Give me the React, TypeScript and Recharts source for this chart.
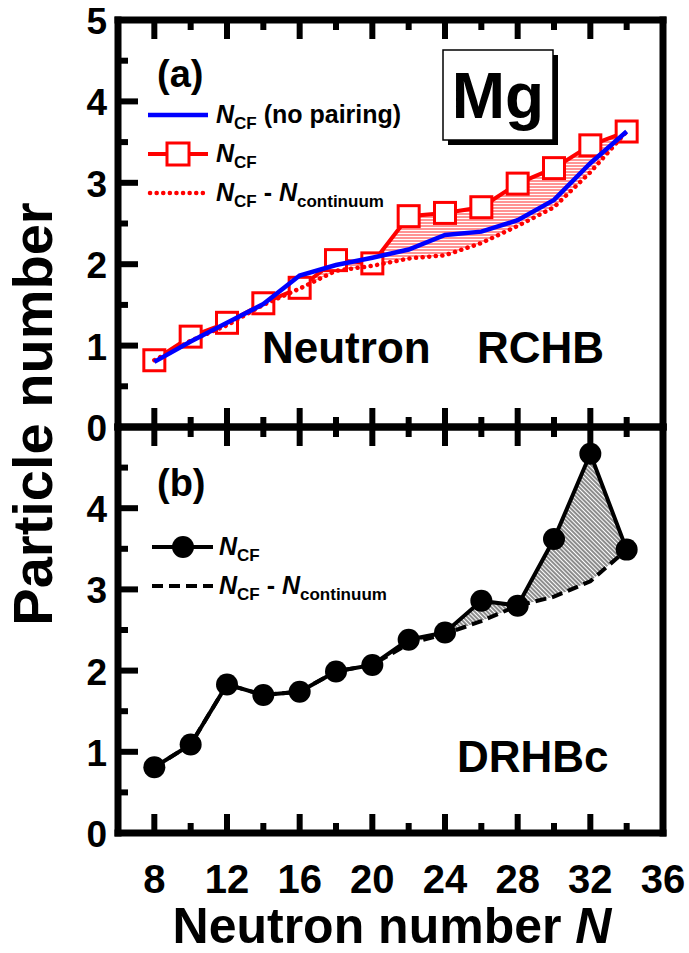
import React from 'react'
import { ComposedChart, Line, Area, XAxis, YAxis } from 'recharts'

// neutron numbers of the Mg isotopes
const neutronN = [8, 10, 12, 14, 16, 18, 20, 22, 24, 26, 28, 30, 32, 34]

// (a) RCHB
const rchbNcf = [0.82, 1.11, 1.28, 1.52, 1.71, 2.05, 2.01, 2.59, 2.63, 2.7, 2.99, 3.18, 3.46, 3.63]
const rchbNoPairing = [0.8, 1.05, 1.28, 1.51, 1.86, 1.99, 2.08, 2.18, 2.36, 2.4, 2.54, 2.79, 3.24, 3.63]
const rchbNcfMinusCont = [0.82, 1.06, 1.25, 1.5, 1.7, 1.92, 1.98, 2.07, 2.11, 2.26, 2.47, 2.7, 3.13, 3.63]

// (b) DRHBc
const drhbcNcf = [0.81, 1.09, 1.83, 1.7, 1.74, 1.99, 2.07, 2.38, 2.47, 2.86, 2.8, 3.62, 4.67, 3.49]
const drhbcNcfMinusCont = [0.81, 1.09, 1.83, 1.7, 1.74, 1.99, 2.07, 2.33, 2.45, 2.61, 2.8, 2.91, 3.1, 3.49]

const xTicks = [8, 10, 12, 14, 16, 18, 20, 22, 24, 26, 28, 30, 32, 34, 36]
const yTicksA = [0, 0.5, 1, 1.5, 2, 2.5, 3, 3.5, 4, 4.5, 5]
const yTicksB = [0, 0.5, 1, 1.5, 2, 2.5, 3, 3.5, 4, 4.5]

const rowsA = neutronN.map((n, i) => ({
  n,
  ncf: rchbNcf[i],
  noPair: rchbNoPairing[i],
  minus: rchbNcfMinusCont[i],
  band: [rchbNcfMinusCont[i], rchbNcf[i]],
}))
const rowsB = neutronN.map((n, i) => ({
  n,
  ncf: drhbcNcf[i],
  minus: drhbcNcfMinusCont[i],
  band: [drhbcNcfMinusCont[i], drhbcNcf[i]],
}))

const FONT = '"Liberation Sans", Arial, sans-serif'
const frame = { stroke: '#000', strokeWidth: 7, strokeLinecap: 'square' as const }

// ticks point into the plot; dir = +1 down/right, -1 up/left
function XTick(props: any) {
  const { x, y, payload, dir, showLabel } = props
  const v = payload.value
  const major = v % 4 === 0
  return (
    <g>
      <line x1={x} y1={y} x2={x} y2={y + dir * (major ? 19 : 10)} stroke="#000" strokeWidth={6} />
      {showLabel && major && (
        <text x={x} y={y + 60} textAnchor="middle" fontFamily={FONT} fontWeight="bold" fontSize={40} fill="#000">
          {v}
        </text>
      )}
    </g>
  )
}

function YTick(props: any) {
  const { x, y, payload, dir, showLabel } = props
  const v = payload.value
  const major = Number.isInteger(v)
  return (
    <g>
      <line x1={x} y1={y} x2={x + dir * (major ? 20 : 10)} y2={y} stroke="#000" strokeWidth={6} />
      {showLabel && major && (
        <text x={x - 11} y={y + 14} textAnchor="end" fontFamily={FONT} fontWeight="bold" fontSize={37} fill="#000">
          {v}
        </text>
      )}
    </g>
  )
}

function Square(p: any) {
  const { cx, cy, index } = p
  return <rect key={'sq' + index} x={cx - 10.5} y={cy - 10.5} width={21} height={21} fill="#fff" stroke="#f00" strokeWidth={3} />
}

function axesFor(yTicks: number[], bottomLabels: boolean, bottomH: number, topH: number, hidden = false) {
  const line = hidden ? false : frame
  const xt = (dir: number, lab: boolean) => (hidden ? false : (p: any) => <XTick {...p} dir={dir} showLabel={lab} />)
  const yt = (dir: number, lab: boolean) => (hidden ? false : (p: any) => <YTick {...p} dir={dir} showLabel={lab} />)
  return [
    <XAxis key="xb" xAxisId="b" dataKey="n" type="number" domain={[6, 36]} ticks={xTicks} interval={0}
      height={bottomH} tickSize={0} tickMargin={0} tickLine={false} axisLine={line} tick={xt(-1, bottomLabels)} />,
    <XAxis key="xt" xAxisId="t" orientation="top" dataKey="n" type="number" domain={[6, 36]} ticks={xTicks} interval={0}
      height={topH} tickSize={0} tickMargin={0} tickLine={false} axisLine={line} tick={xt(1, false)} />,
    <YAxis key="yl" yAxisId="l" type="number" domain={[0, 5]} ticks={yTicks} interval={0} width={118}
      tickSize={0} tickMargin={0} tickLine={false} axisLine={line} tick={yt(1, true)} />,
    <YAxis key="yr" yAxisId="r" orientation="right" type="number" domain={[0, 5]} ticks={yTicks} interval={0} width={26}
      tickSize={0} tickMargin={0} tickLine={false} axisLine={line} tick={yt(-1, false)} />,
  ]
}

function PanelA() {
  return (
    <ComposedChart width={689} height={460} data={rowsA} margin={{ top: 0, right: 0, bottom: 0, left: 0 }}>
      <defs>
        <pattern id="redHatch" width="6" height="3" patternUnits="userSpaceOnUse">
          <line x1="0" y1="1" x2="6" y2="1" stroke="#ff2a2a" strokeWidth="1" />
        </pattern>
      </defs>
      {axesFor(yTicksA, false, 33, 20)}
      <Area xAxisId="b" yAxisId="l" type="linear" dataKey="band" stroke="none" fill="url(#redHatch)" fillOpacity={1} isAnimationActive={false} activeDot={false} />
      <Line xAxisId="b" yAxisId="l" type="linear" dataKey="ncf" stroke="#f00" strokeWidth={4} dot={Square} isAnimationActive={false} activeDot={false} />
    </ComposedChart>
  )
}

// second layer over panel (a): dotted and blue curves lie on top of the squares
function PanelATop() {
  return (
    <ComposedChart width={689} height={460} data={rowsA} margin={{ top: 0, right: 0, bottom: 0, left: 0 }}>
      {axesFor(yTicksA, false, 33, 20, true)}
      <Line xAxisId="b" yAxisId="l" type="linear" dataKey="minus" stroke="#f00" strokeWidth={4.5} strokeLinecap="round" strokeDasharray="0.1 6.5" dot={false} isAnimationActive={false} activeDot={false} />
      <Line xAxisId="b" yAxisId="l" type="linear" dataKey="noPair" stroke="#0000ff" strokeWidth={4.5} dot={false} isAnimationActive={false} activeDot={false} />
    </ComposedChart>
  )
}

function PanelB() {
  return (
    <ComposedChart width={689} height={543} data={rowsB} margin={{ top: 0, right: 0, bottom: 0, left: 0 }}>
      <defs>
        <pattern id="blackHatch" width="3" height="3" patternUnits="userSpaceOnUse" patternTransform="rotate(-45)">
          <line x1="1" y1="0" x2="1" y2="3" stroke="#000" strokeWidth="0.9" />
        </pattern>
      </defs>
      {axesFor(yTicksB, true, 120, 17)}
      <Area xAxisId="b" yAxisId="l" type="linear" dataKey="band" stroke="none" fill="url(#blackHatch)" fillOpacity={1} isAnimationActive={false} activeDot={false} />
      <Line xAxisId="b" yAxisId="l" type="linear" dataKey="minus" stroke="#000" strokeWidth={4} strokeDasharray="11 6" dot={false} isAnimationActive={false} activeDot={false} />
      <Line xAxisId="b" yAxisId="l" type="linear" dataKey="ncf" stroke="#000" strokeWidth={4} dot={{ r: 11, fill: '#000', stroke: '#000', strokeWidth: 0 }} isAnimationActive={false} activeDot={false} />
    </ComposedChart>
  )
}

function NcfLabel({ x, y, minus }: { x: number; y: number; minus?: boolean }) {
  return (
    <text x={x} y={y} fontFamily={FONT} fontWeight="bold" fontSize={25} fill="#000">
      <tspan fontStyle="italic">N</tspan>
      <tspan fontSize={17} dy={6}>CF</tspan>
      {minus && (
        <>
          <tspan dy={-6}> - </tspan>
          <tspan fontStyle="italic">N</tspan>
          <tspan fontSize={17} dy={6}>continuum</tspan>
        </>
      )}
    </text>
  )
}

function Overlay() {
  const t = { fontFamily: FONT, fontWeight: 'bold' as const, fill: '#000' }
  return (
    <svg width={689} height={953} style={{ position: 'absolute', left: 0, top: 0, pointerEvents: 'none' }}>
      {/* panel (a) */}
      <text x={157} y={87} fontSize={38} {...t}>(a)</text>
      <line x1={148} y1={115} x2={208} y2={115} stroke="#0000ff" strokeWidth={4.5} />
      <text x={216} y={123} fontFamily={FONT} fontWeight="bold" fontSize={25} fill="#000">
        <tspan fontStyle="italic">N</tspan>
        <tspan fontSize={17} dy={6}>CF</tspan>
        <tspan dy={-6}> (no pairing)</tspan>
      </text>
      <line x1={148} y1={154} x2={208} y2={154} stroke="#f00" strokeWidth={4} />
      <rect x={167} y={143} width={22} height={22} fill="#fff" stroke="#f00" strokeWidth={3} />
      <NcfLabel x={216} y={162} />
      <line x1={150} y1={193} x2={206} y2={193} stroke="#f00" strokeWidth={4.5} strokeLinecap="round" strokeDasharray="0.1 6.5" />
      <NcfLabel x={216} y={201} minus />

      <rect x={448} y={55} width={110} height={90} fill="#000" />
      <rect x={443} y={50} width={110} height={90} fill="#fff" stroke="#000" strokeWidth={1.5} />
      <text x={498} y={118} fontSize={64} textAnchor="middle" {...t}>Mg</text>

      <text x={262} y={363} fontSize={44} {...t}>Neutron</text>
      <text x={477} y={363} fontSize={44} {...t}>RCHB</text>

      {/* panel (b) */}
      <text x={157} y={496} fontSize={38} {...t}>(b)</text>
      <line x1={152} y1={547} x2={213} y2={547} stroke="#000" strokeWidth={4} />
      <circle cx={183} cy={547} r={11} fill="#000" />
      <NcfLabel x={219} y={555} />
      <line x1={152} y1={586} x2={213} y2={586} stroke="#000" strokeWidth={4} strokeDasharray="11 6" />
      <NcfLabel x={219} y={594} minus />

      <text x={457} y={772} fontSize={44} {...t}>DRHBc</text>

      {/* axis titles */}
      <text x={392} y={943} fontSize={50} textAnchor="middle" {...t}>
        Neutron number <tspan fontStyle="italic">N</tspan>
      </text>
      <text x={52} y={414} fontSize={56} textAnchor="middle" transform="rotate(-90 52 414)" {...t}>
        Particle number
      </text>
    </svg>
  )
}

export default function App() {
  return (
    <div style={{ position: 'absolute', left: 0, top: 0, width: 689, height: 953, background: '#fff' }}>
      <div style={{ position: 'absolute', left: 0, top: 410 }}>
        <PanelB />
      </div>
      <div style={{ position: 'absolute', left: 0, top: 0 }}>
        <PanelA />
      </div>
      <div style={{ position: 'absolute', left: 0, top: 0 }}>
        <PanelATop />
      </div>
      <Overlay />
    </div>
  )
}
